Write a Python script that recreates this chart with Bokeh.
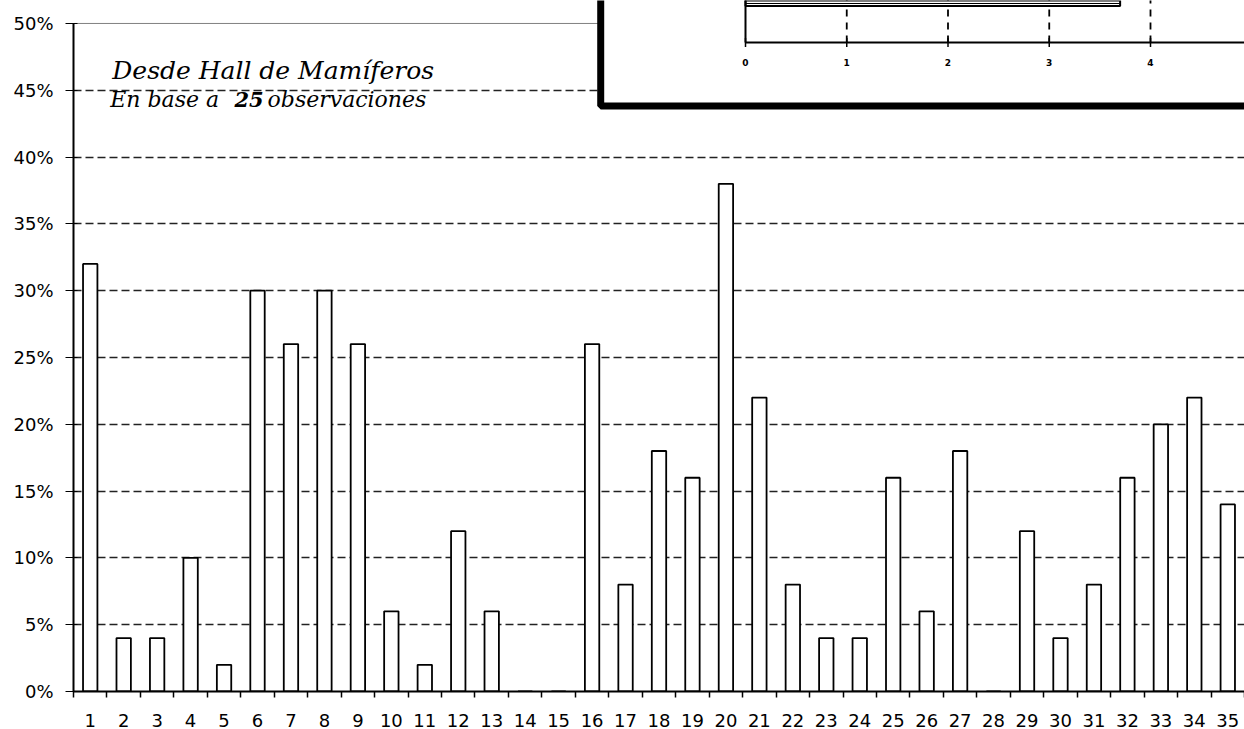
from bokeh.plotting import figure
from bokeh.models import (Range1d, FixedTicker, NumeralTickFormatter, Span,
                          ColumnDataSource)
from bokeh.core.properties import value
from bokeh.embed import file_html
from bokeh.resources import INLINE
import math

# ---------------- data ----------------
categories = [str(i) for i in range(1, 36)]
percent = [32, 4, 4, 10, 2, 30, 26, 30, 26, 6, 2, 12, 6, 0, 0, 26, 8, 18, 16, 38,
           22, 8, 4, 4, 16, 6, 18, 0, 12, 4, 8, 16, 20, 22, 14]
y_ticks = [0, 5, 10, 15, 20, 25, 30, 35, 40, 45, 50]
title_text = "Desde Hall de Mamíferos"
subtitle_parts = ["En base a", "25", "observaciones"]

inset_ticks = [0, 1, 2, 3, 4]
inset_value = [3.7]

# ---------------- figure ----------------
xs = list(range(1, len(categories) + 1))
tops = [v / 100 for v in percent]

p = figure(width=1244, height=729, output_backend="svg", toolbar_location=None,
           x_range=Range1d(0.5, 35.5), y_range=Range1d(0, 0.5 + 23 / 1338),
           min_border_left=73, min_border_right=0, min_border_top=0,
           min_border_bottom=37)
p.outline_line_color = None
p.background_fill_color = "white"
p.border_fill_color = "white"

# y axis
p.yaxis.ticker = FixedTicker(ticks=[t / 100 for t in y_ticks])
p.yaxis.formatter = NumeralTickFormatter(format="0%")
p.yaxis.bounds = (0, 0.5)
p.yaxis.axis_line_width = 2
p.yaxis.axis_line_color = "black"
p.yaxis.major_tick_out = 8
p.yaxis.major_tick_in = 4
p.yaxis.major_tick_line_color = "black"
p.yaxis.minor_tick_line_color = None
p.yaxis.major_label_standoff = 12
p.yaxis.major_label_text_font = "DejaVu Sans"
p.yaxis.major_label_text_font_size = "18px"
p.yaxis.major_label_text_color = "black"

# x axis
p.xaxis.ticker = FixedTicker(ticks=xs, minor_ticks=[x - 0.5 for x in xs] + [35.5])
p.xaxis.major_label_overrides = {x: c for x, c in zip(xs, categories)}
p.xaxis.axis_line_width = 2
p.xaxis.axis_line_color = "black"
p.xaxis.major_tick_out = 0
p.xaxis.major_tick_in = 0
p.xaxis.minor_tick_out = 6
p.xaxis.minor_tick_in = 0
p.xaxis.minor_tick_line_color = "black"
p.xaxis.minor_tick_line_width = 1.5
p.xaxis.major_label_standoff = 16
p.xaxis.major_label_text_font = "DejaVu Sans"
p.xaxis.major_label_text_font_size = "18px"
p.xaxis.major_label_text_color = "black"

# grid
p.xgrid.grid_line_color = None
p.ygrid.ticker = FixedTicker(ticks=[t / 100 for t in y_ticks[1:-1]])
p.ygrid.grid_line_color = "#222222"
p.ygrid.grid_line_dash = "8 4"
p.ygrid.grid_line_width = 1.4
p.add_layout(Span(location=0.5, dimension="width", line_color="#808080",
                  line_width=1, level="underlay"))

# bars
src = ColumnDataSource(dict(x=xs, top=tops, cat=categories))
p.vbar(x="x", top="top", width=0.43, source=src, fill_color="white",
       line_color="black", line_width=1.8)

# titles
serif = value("DejaVu Serif")
p.text(x=[1.66], y=[0.4649], text=[title_text], text_font=serif,
       text_font_style="italic", text_font_size="25px", text_color="black",
       text_baseline="alphabetic")
p.text(x=[1.60], y=[0.4432], text=[subtitle_parts[0]], text_font=serif,
       text_font_style="italic", text_font_size="22px", text_color="black",
       text_baseline="alphabetic")
p.text(x=[5.31], y=[0.4432], text=[subtitle_parts[1]], text_font=serif,
       text_font_style="bold italic", text_font_size="21px", text_color="black",
       text_baseline="alphabetic")
p.text(x=[6.30], y=[0.4432], text=[subtitle_parts[2]], text_font=serif,
       text_font_style="italic", text_font_size="22px", text_color="black",
       text_baseline="alphabetic")

# ---------------- inset (cropped chart in a framed box) ----------------
p.extra_x_ranges = {"ix": Range1d(-(745 - 73) / 101.25, (1244 - 745) / 101.25)}
p.extra_y_ranges = {"iy": Range1d(-650 / 37, 42 / 37)}

p.quad(left=[-1.43], right=[8], bottom=[-1.72], top=[4], fill_color="white",
       line_color="black", line_width=7, x_range_name="ix", y_range_name="iy")
# inset grid lines
p.segment(x0=inset_ticks[1:], y0=[0] * 4, x1=inset_ticks[1:], y1=[3] * 4,
          line_color="black", line_width=1.8, line_dash="7 6",
          x_range_name="ix", y_range_name="iy")
# inset bar
p.hbar(y=[2], height=2.03, left=[0], right=inset_value, fill_color="white",
       line_color="black", line_width=2, hatch_pattern="horizontal_line",
       hatch_color="black", hatch_scale=5, hatch_weight=1,
       x_range_name="ix", y_range_name="iy")
# inset axes
p.segment(x0=[0, 0], y0=[0, 0], x1=[8, 0], y1=[0, 3], line_color="black",
          line_width=2, x_range_name="ix", y_range_name="iy")
p.scatter(x=inset_ticks, y=[0] * len(inset_ticks), marker="dash", angle=math.pi / 2,
          size=9, line_color="black", line_width=1.5,
          x_range_name="ix", y_range_name="iy")
p.text(x=inset_ticks, y=[-0.55] * len(inset_ticks), text=[str(t) for t in inset_ticks],
       text_font=value("DejaVu Sans"), text_font_style="bold", text_font_size="9px",
       text_color="black", text_align="center", text_baseline="middle",
       x_range_name="ix", y_range_name="iy")

open("out.html", "w").write(file_html(p, INLINE))
